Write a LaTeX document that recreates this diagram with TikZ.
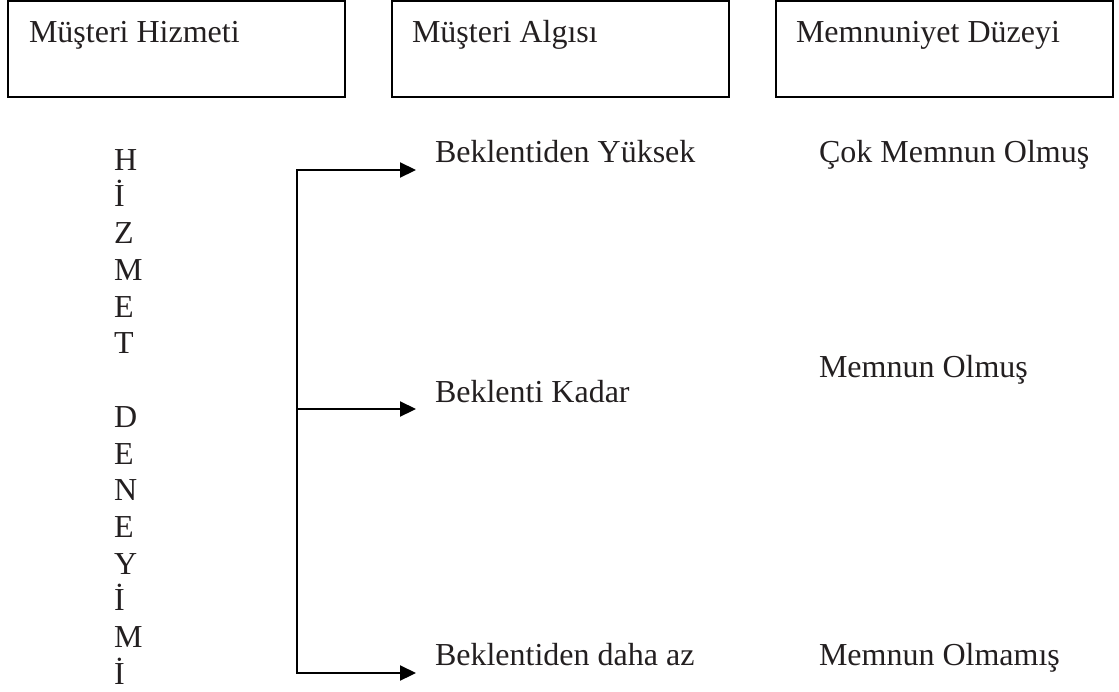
\documentclass[tikz,border=0pt]{standalone}
\usepackage{fontspec}
\setmainfont{Liberation Serif}
\usetikzlibrary{arrows.meta}
\definecolor{ink}{HTML}{231F20}
\begin{document}
\begin{tikzpicture}[x=1pt,y=-1pt,
  box/.style={draw=black,line width=2.4pt,minimum width=337pt,minimum height=96pt,inner sep=0pt,outer sep=0pt},
  txt/.style={anchor=base west,inner sep=0pt,outer sep=0pt,text=ink,font=\fontsize{32}{36}\selectfont},
  link/.style={draw=black,line width=2.2pt},
  arr/.style={link,-{Triangle[length=16pt,width=15pt]}},
  darr/.style={link,{Triangle[length=16pt,width=15pt]}-{Triangle[length=16pt,width=15pt]}}]
\useasboundingbox (0,0) rectangle (1119,691);
% header boxes
\node[box] (h1) at (176.5,49) {};
\node[box] (h2) at (560.5,49) {};
\node[box] (h3) at (944.5,49) {};
\node[txt] (h1t) at (29,42) {Müşteri Hizmeti};
\node[txt] (h2t) at (412,42) {Müşteri Algısı};
\node[txt] (h3t) at (796,42) {Memnuniyet Düzeyi};
% vertical word
\foreach \ch/\yy [count=\i] in {H/170,İ/206.5,Z/243,M/280,E/317,T/353.5,D/427.5,E/464,N/500.5,E/537,Y/574,İ/610.5,M/647,İ/684}
  \node[txt] (v\i) at (114,\yy) {\ch};
% perception texts
\node[txt] (p1) at (435,162) {Beklentiden Yüksek};
\node[txt] (p2) at (435,402) {Beklenti Kadar};
\node[txt] (p3) at (435,665) {Beklentiden daha az};
% satisfaction texts
\node[txt] (s1) at (819,162) {Çok Memnun Olmuş};
\node[txt] (s2) at (819,377) {Memnun Olmuş};
\node[txt] (s3) at (819,665) {Memnun Olmamış};
% connectors
\coordinate (j1) at (297,170);
\coordinate (j2) at (297,409);
\coordinate (j3) at (297,673);
\coordinate (a1) at (416,170);
\coordinate (a2) at (416,409);
\coordinate (a3) at (416,673);
\draw[darr] (a3) -- (j3) -- (j1) -- (a1);
\draw[arr] (j2) -- (a2);
\end{tikzpicture}
\end{document}
